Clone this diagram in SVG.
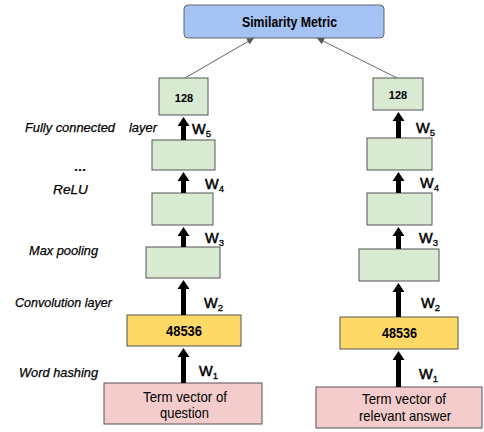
<svg xmlns="http://www.w3.org/2000/svg" width="484" height="432" viewBox="0 0 484 432">
<style>
text{font-family:"Liberation Sans",Arial,sans-serif;fill:#000}
.g{fill:#d9ead3;stroke:#555;stroke-width:1}
.y{fill:#ffd966;stroke:#555;stroke-width:1}
.p{fill:#f4cccc;stroke:#555;stroke-width:1}
.b{fill:#a4c2f4;stroke:#666;stroke-width:1}
.lab{font-size:13.5px;font-style:italic;stroke:#000;stroke-width:0.25}
.num{font-size:11px;font-weight:bold;text-anchor:middle}
.big{font-size:14px;font-weight:bold;text-anchor:middle}
.term{font-size:14.5px;text-anchor:middle}
.w{font-size:14.5px;stroke:#000;stroke-width:0.5}
.w tspan{font-size:9.5px;stroke-width:0.3}
.arr{fill:#000}
.ln{stroke:#666;stroke-width:1;fill:none;marker-end:url(#ah)}
</style>
<defs>
<marker id="ah" markerWidth="8" markerHeight="8" refX="7" refY="4" orient="auto" markerUnits="userSpaceOnUse">
<path d="M0,0.5 L7,4 L0,7.5 Z" fill="#555"/>
</marker>
</defs>
<g id="similarity"><rect class="b" x="184" y="5" width="200" height="33" rx="4"/><text class="big" x="289.5" y="27" textLength="95" lengthAdjust="spacingAndGlyphs">Similarity Metric</text></g>
<g id="labels">
<text class="lab" x="25" y="132" textLength="90" lengthAdjust="spacingAndGlyphs">Fully connected</text>
<text class="lab" x="129" y="132" textLength="28" lengthAdjust="spacingAndGlyphs">layer</text>
<text x="74" y="171" font-size="12" font-weight="bold" textLength="12" lengthAdjust="spacingAndGlyphs">...</text>
<text class="lab" x="53" y="194" textLength="35" lengthAdjust="spacingAndGlyphs">ReLU</text>
<text class="lab" x="29" y="255" textLength="69" lengthAdjust="spacingAndGlyphs">Max pooling</text>
<text class="lab" x="15" y="307" textLength="97" lengthAdjust="spacingAndGlyphs">Convolution layer</text>
<text class="lab" x="19" y="377" textLength="79" lengthAdjust="spacingAndGlyphs">Word hashing</text>
</g>
<g id="left-128"><rect class="g" x="159" y="78" width="49" height="37"/><text class="num" x="184" y="102">128</text></g>
<g id="left-fc"><rect class="g" x="152" y="140" width="63" height="30"/></g>
<g id="left-relu"><rect class="g" x="152" y="193" width="61" height="32"/></g>
<g id="left-pool"><rect class="g" x="146" y="247" width="74" height="31"/></g>
<g id="left-hash"><rect class="y" x="127" y="315" width="114" height="31"/><text class="big" x="184" y="336" textLength="36" lengthAdjust="spacingAndGlyphs">48536</text></g>
<g id="left-term"><rect class="p" x="104" y="383" width="158" height="41"/><text class="term" x="185" y="402" textLength="84" lengthAdjust="spacingAndGlyphs">Term vector of</text><text class="term" x="184.5" y="418" textLength="49" lengthAdjust="spacingAndGlyphs">question</text></g>
<g id="right-128"><rect class="g" x="373" y="78" width="50" height="32"/><text class="num" x="398" y="99">128</text></g>
<g id="right-fc"><rect class="g" x="367" y="138" width="65" height="32"/></g>
<g id="right-relu"><rect class="g" x="367" y="193" width="65" height="32"/></g>
<g id="right-pool"><rect class="g" x="359" y="249" width="80" height="32"/></g>
<g id="right-hash"><rect class="y" x="340" y="317" width="118" height="32"/><text class="big" x="399.5" y="338" textLength="35" lengthAdjust="spacingAndGlyphs">48536</text></g>
<g id="right-term"><rect class="p" x="316" y="387" width="166" height="41"/><text class="term" x="404" y="404" textLength="84" lengthAdjust="spacingAndGlyphs">Term vector of</text><text class="term" x="405" y="421" textLength="92" lengthAdjust="spacingAndGlyphs">relevant answer</text></g>
<g id="connectors">
<line class="ln" x1="185" y1="78" x2="254" y2="38"/>
<line class="ln" x1="397" y1="78" x2="317" y2="38"/>
<polygon class="arr" points="183.5,117 189.5,126 186,126 186,140 181,140 181,126 177.5,126"/>
<polygon class="arr" points="183.5,172 189.5,181 186,181 186,193 181,193 181,181 177.5,181"/>
<polygon class="arr" points="183.5,227 189.5,236 186,236 186,247 181,247 181,236 177.5,236"/>
<polygon class="arr" points="183.5,280 189.5,289 186,289 186,315 181,315 181,289 177.5,289"/>
<polygon class="arr" points="183.5,348 189.5,357 186,357 186,383 181,383 181,357 177.5,357"/>
<polygon class="arr" points="398.5,112 404.5,121 401,121 401,138 396,138 396,121 392.5,121"/>
<polygon class="arr" points="398.5,172 404.5,181 401,181 401,193 396,193 396,181 392.5,181"/>
<polygon class="arr" points="398.5,227 404.5,236 401,236 401,249 396,249 396,236 392.5,236"/>
<polygon class="arr" points="398.5,283 404.5,292 401,292 401,317 396,317 396,292 392.5,292"/>
<polygon class="arr" points="398.5,351 404.5,360 401,360 401,387 396,387 396,360 392.5,360"/>
</g>
<g id="weights">
<text class="w" x="192" y="134">W<tspan dy="2.5">5</tspan></text>
<text class="w" x="205" y="189">W<tspan dy="3">4</tspan></text>
<text class="w" x="205" y="243">W<tspan dy="3">3</tspan></text>
<text class="w" x="204" y="308">W<tspan dy="3">2</tspan></text>
<text class="w" x="199" y="376">W<tspan dy="3">1</tspan></text>
<text class="w" x="416" y="133">W<tspan dy="3">5</tspan></text>
<text class="w" x="420" y="188">W<tspan dy="3">4</tspan></text>
<text class="w" x="419" y="243">W<tspan dy="3">3</tspan></text>
<text class="w" x="421" y="308">W<tspan dy="3">2</tspan></text>
<text class="w" x="419" y="379">W<tspan dy="3">1</tspan></text>
</g>
</svg>
